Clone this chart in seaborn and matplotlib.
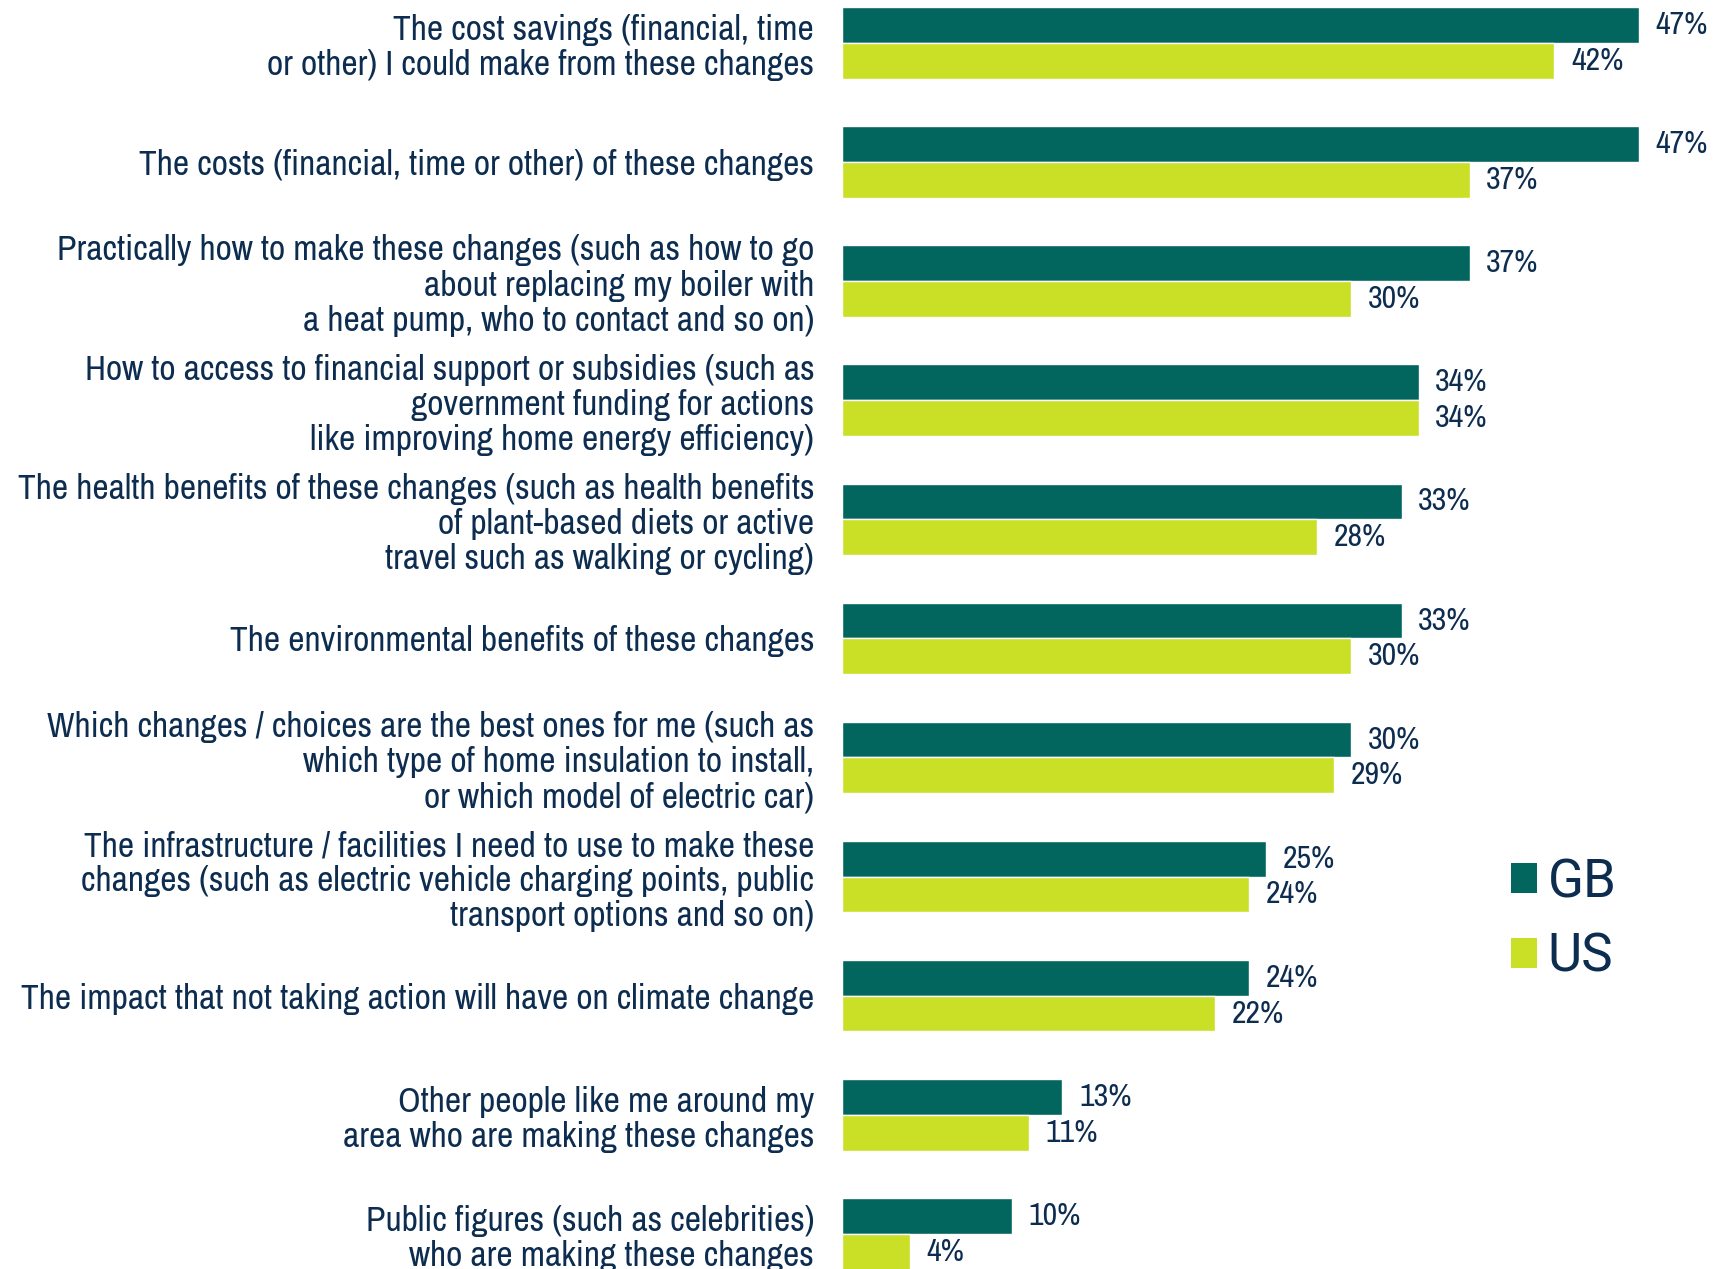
import matplotlib
matplotlib.use("Agg")
import matplotlib.pyplot as plt
import seaborn as sns
import pandas as pd
from matplotlib.patches import Patch
from matplotlib import font_manager

categories = [
    "The cost savings (financial, time\nor other) I could make from these changes",
    "The costs (financial, time or other) of these changes",
    "Practically how to make these changes (such as how to go\nabout replacing my boiler with\na heat pump, who to contact and so on)",
    "How to access to financial support or subsidies (such as\ngovernment funding for actions\nlike improving home energy efficiency)",
    "The health benefits of these changes (such as health benefits\nof plant-based diets or active\ntravel such as walking or cycling)",
    "The environmental benefits of these changes",
    "Which changes / choices are the best ones for me (such as\nwhich type of home insulation to install,\nor which model of electric car)",
    "The infrastructure / facilities I need to use to make these\nchanges (such as electric vehicle charging points, public\ntransport options and so on)",
    "The impact that not taking action will have on climate change",
    "Other people like me around my\narea who are making these changes",
    "Public figures (such as celebrities)\nwho are making these changes",
]
gb_values = [47, 47, 37, 34, 33, 33, 30, 25, 24, 13, 10]
us_values = [42, 37, 30, 34, 28, 30, 29, 24, 22, 11, 4]
series_names = ["GB", "US"]
colors = {"GB": "#02665F", "US": "#C9E027"}
text_color = "#0D2D50"

sns.set_theme(style="white")
names = sorted({f.name for f in font_manager.fontManager.ttflist})
narrow = [n for n in names if ("Condensed" in n or "Narrow" in n)]
fam = narrow[0] if narrow else "Roboto"
plt.rcParams["font.family"] = [fam, "DejaVu Sans"]
label_size = 25.6 if narrow else 20
value_size = 23 if narrow else 20

df = pd.DataFrame({
    "category": categories * 2,
    "value": gb_values + us_values,
    "series": [series_names[0]] * len(categories) + [series_names[1]] * len(categories),
})

fig = plt.figure(figsize=(17.29, 12.69), dpi=100)
ax = fig.add_axes([0.487, 0.0, 0.513, 1.0])
sns.barplot(data=df, y="category", x="value", hue="series", orient="h",
            palette=colors, width=0.6, gap=0, ax=ax, legend=False, saturation=1)

for cont in ax.containers:
    ax.bar_label(cont, labels=[f"{int(v)}%" for v in cont.datavalues],
                 padding=12, fontsize=value_size, color=text_color)

ax.set_xlim(0, 52.3)
ax.set_ylim(10.294, -0.359)
ax.set_xlabel("")
ax.set_ylabel("")
ax.set_xticks([])
for s in ax.spines.values():
    s.set_visible(False)
ax.tick_params(axis="y", length=0, pad=20, labelsize=label_size, labelcolor=text_color)
for lbl in ax.get_yticklabels():
    lbl.set_horizontalalignment("right")
    lbl.set_multialignment("right")
    lbl.set_linespacing(1.12)

handles = [Patch(facecolor=colors[n], edgecolor="none") for n in series_names]
leg = fig.legend(handles, series_names, loc="center left", bbox_to_anchor=(0.8738, 0.275),
                 frameon=False, fontsize=38, handlelength=0.5, handleheight=0.5,
                 handletextpad=0.2, labelspacing=0.45, borderaxespad=0, borderpad=0)
for t in leg.get_texts():
    t.set_color(text_color)
    t.set_family(["Roboto", "DejaVu Sans"])

fig.savefig("out.png", dpi=100)
